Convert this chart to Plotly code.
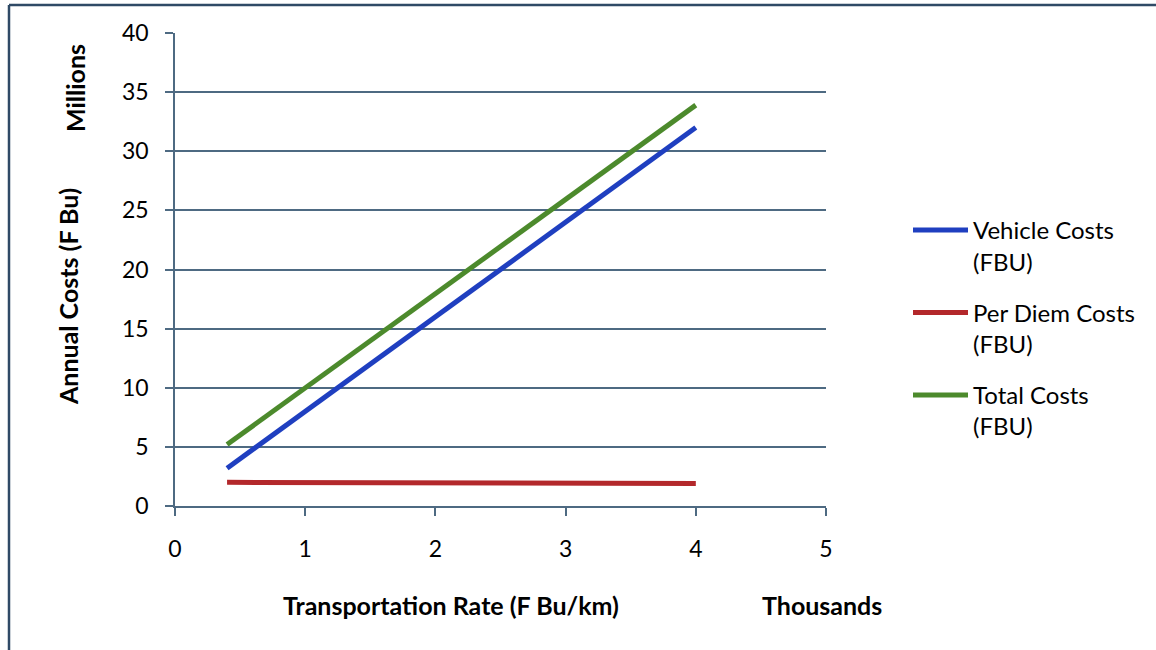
import plotly.graph_objects as go

# Data (x in thousands of F Bu/km, y in millions of F Bu)
rate = [0.4, 4.0]
vehicle_costs = [3.2, 32.0]
per_diem_costs = [2.0, 1.9]
total_costs = [5.2, 33.9]

series_names = ["Vehicle Costs<br>(FBU)", "Per Diem Costs<br>(FBU)", "Total Costs<br>(FBU)"]
series_values = [vehicle_costs, per_diem_costs, total_costs]
series_colors = ["#1f3fc0", "#b3282b", "#4c8a2c"]

x_ticks = [0, 1, 2, 3, 4, 5]
y_ticks = [0, 5, 10, 15, 20, 25, 30, 35, 40]

W, H = 1156, 650
PL, PR, PT, PB = 175, 826, 33, 506          # plot area in pixels
L, T, R, B = PL, PT, W - PR, H - PB
pw, ph = PR - PL, PB - PT

FONT = "Lato"
grid_col = "#4e6a82"

fig = go.Figure()
for i, (name, vals, col) in enumerate(zip(series_names, series_values, series_colors)):
    fig.add_trace(go.Scatter(
        x=rate, y=vals, mode="lines", name=name, legendgroup=f"g{i}",
        line=dict(color=col, width=5),
    ))

def px_to_paper_x(px):
    return (px - PL) / pw

def px_to_paper_y(py):
    return (PB - py) / ph

fig.update_layout(
    width=W, height=H,
    margin=dict(l=L, r=R, t=T, b=B, autoexpand=False),
    paper_bgcolor="white", plot_bgcolor="white",
    font=dict(family=FONT, color="black", size=23),
    showlegend=True,
    legend=dict(
        x=px_to_paper_x(908), y=px_to_paper_y(208), xanchor="left", yanchor="top",
        valign="top", tracegroupgap=17, itemwidth=55, font=dict(size=24, family=FONT),
        bgcolor="rgba(0,0,0,0)",
    ),
    xaxis=dict(
        range=[0, 5], tickvals=x_ticks, ticktext=[str(v) for v in x_ticks],
        showgrid=False, zeroline=False, showline=True, linecolor=grid_col, linewidth=1.5,
        ticks="outside", ticklen=8, tickcolor=grid_col, tickwidth=1.5,
        ticklabelstandoff=14, tickfont=dict(size=23),
    ),
    yaxis=dict(
        range=[0, 40], tickvals=y_ticks, ticktext=[str(v) for v in y_ticks],
        showgrid=True, gridcolor=grid_col, gridwidth=1.5, zeroline=False,
        showline=True, linecolor=grid_col, linewidth=1.5,
        ticks="outside", ticklen=8, tickcolor=grid_col, tickwidth=1.5,
        ticklabelstandoff=12, tickfont=dict(size=23),
    ),
)

# page frame (left and top edges)
fig.add_shape(type="line", xref="paper", yref="paper",
              x0=px_to_paper_x(9), x1=px_to_paper_x(9), y0=px_to_paper_y(5), y1=px_to_paper_y(660),
              line=dict(color="#2f4a66", width=2.5))
fig.add_shape(type="line", xref="paper", yref="paper",
              x0=px_to_paper_x(9), x1=px_to_paper_x(1170), y0=px_to_paper_y(5), y1=px_to_paper_y(5),
              line=dict(color="#2f4a66", width=2.5))

title_font = dict(family=FONT, size=25, color="black", weight="bold")
common = dict(xref="paper", yref="paper", showarrow=False, font=title_font,
              xanchor="center", yanchor="middle")
fig.add_annotation(text="Annual Costs (F Bu)", x=px_to_paper_x(68), y=px_to_paper_y(297),
                   textangle=-90, **common)
fig.add_annotation(text="Millions", x=px_to_paper_x(75), y=px_to_paper_y(88),
                   textangle=-90, **common)
fig.add_annotation(text="Transportation Rate (F Bu/km)", x=px_to_paper_x(451),
                   y=px_to_paper_y(605), **common)
fig.add_annotation(text="Thousands", x=px_to_paper_x(822), y=px_to_paper_y(605), **common)

fig.write_html("out.html", config={"displayModeBar": False},
               post_script="document.body.style.margin='0px';")
